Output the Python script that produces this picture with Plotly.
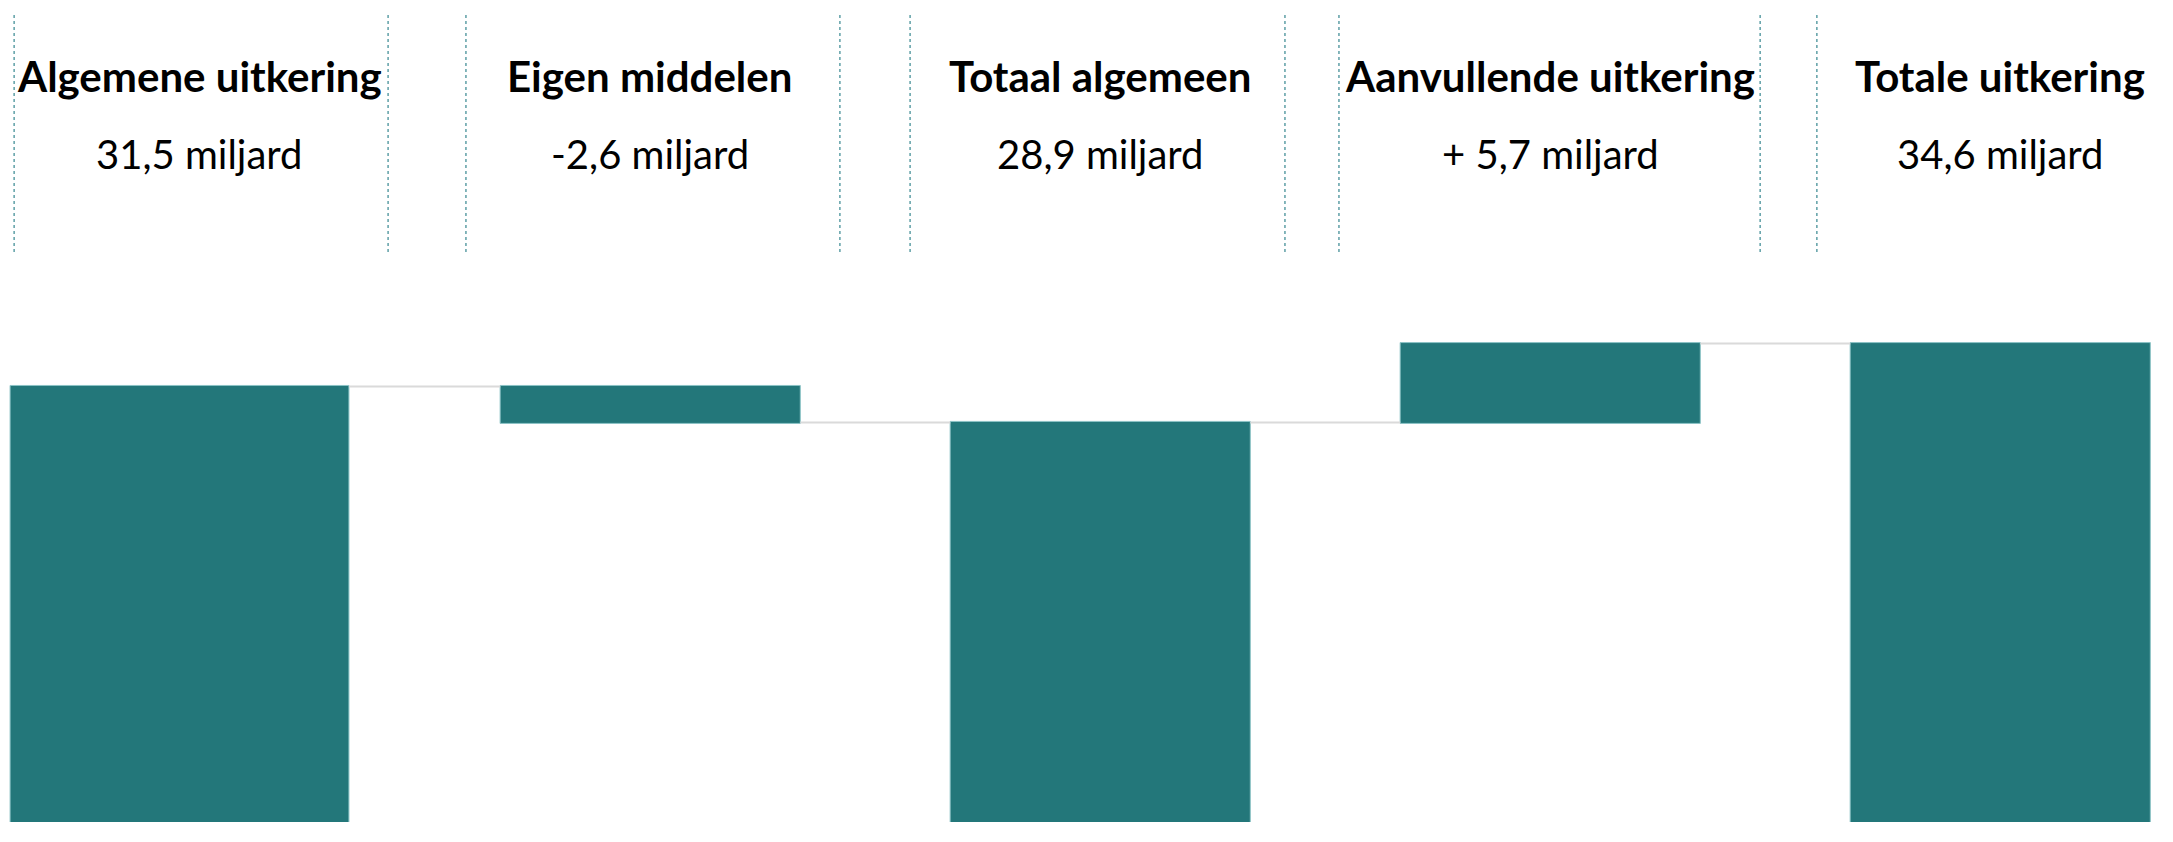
import plotly.graph_objects as go

categories = ["Algemene uitkering", "Eigen middelen", "Totaal algemeen",
              "Aanvullende uitkering", "Totale uitkering"]
values = [31.5, -2.6, 28.9, 5.7, 34.6]
measures = ["absolute", "relative", "total", "relative", "total"]
value_labels = ["31,5 miljard", "-2,6 miljard", "28,9 miljard",
                "+ 5,7 miljard", "34,6 miljard"]

# layout / style settings
BAR = "#23777A"
BAR_EDGE = "#8CC3C6"
DOT = "#5E9FA6"
x = list(range(len(categories)))
bar_width = [0.753, 0.667, 0.667, 0.667, 0.667]
bar_offset = [-0.422, -0.333, -0.333, -0.333, -0.333]
box_left = [-0.413, -0.409, -0.422, -0.469, -0.407]
box_right = [0.418, 0.422, 0.411, 0.467, 0.416]

YTOP = 59.45
fig = go.Figure()
fig.add_trace(go.Waterfall(
    x=x, y=values, measure=measures,
    width=bar_width, offset=bar_offset,
    textposition="none",
    increasing=dict(marker=dict(color=BAR, line=dict(color=BAR_EDGE, width=1))),
    decreasing=dict(marker=dict(color=BAR, line=dict(color=BAR_EDGE, width=1))),
    totals=dict(marker=dict(color=BAR, line=dict(color=BAR_EDGE, width=1))),
    connector=dict(mode="between", line=dict(color="#DADADA", width=2)),
    hoverinfo="skip",
))

for i, (cat, lab) in enumerate(zip(categories, value_labels)):
    fig.add_annotation(x=i, y=0.9075, yref="paper", text="<b>%s</b>" % cat,
                       showarrow=False,
                       font=dict(family="Lato", size=42, color="#000000"),
                       xanchor="center", yanchor="middle")
    fig.add_annotation(x=i, y=0.813, yref="paper", text=lab, showarrow=False,
                       font=dict(family="Lato", size=40, color="#000000"),
                       xanchor="center", yanchor="middle")
    for off in (box_left[i], box_right[i]):
        fig.add_shape(type="line", x0=i + off, x1=i + off, y0=0.6935, y1=0.984,
                      xref="x", yref="paper",
                      line=dict(color=DOT, width=1.5, dash="dot"))

fig.update_layout(
    width=2173, height=842,
    margin=dict(l=0, r=0, t=0, b=20),
    paper_bgcolor="white", plot_bgcolor="white",
    showlegend=False,
    xaxis=dict(range=[-0.4444, 4.3844], visible=False, fixedrange=True),
    yaxis=dict(range=[0, YTOP], visible=False, fixedrange=True),
)

fig.write_html("out.html", config={"displayModeBar": False},
               post_script="document.body.style.margin='0';"
                           "document.body.style.overflow='hidden';")
